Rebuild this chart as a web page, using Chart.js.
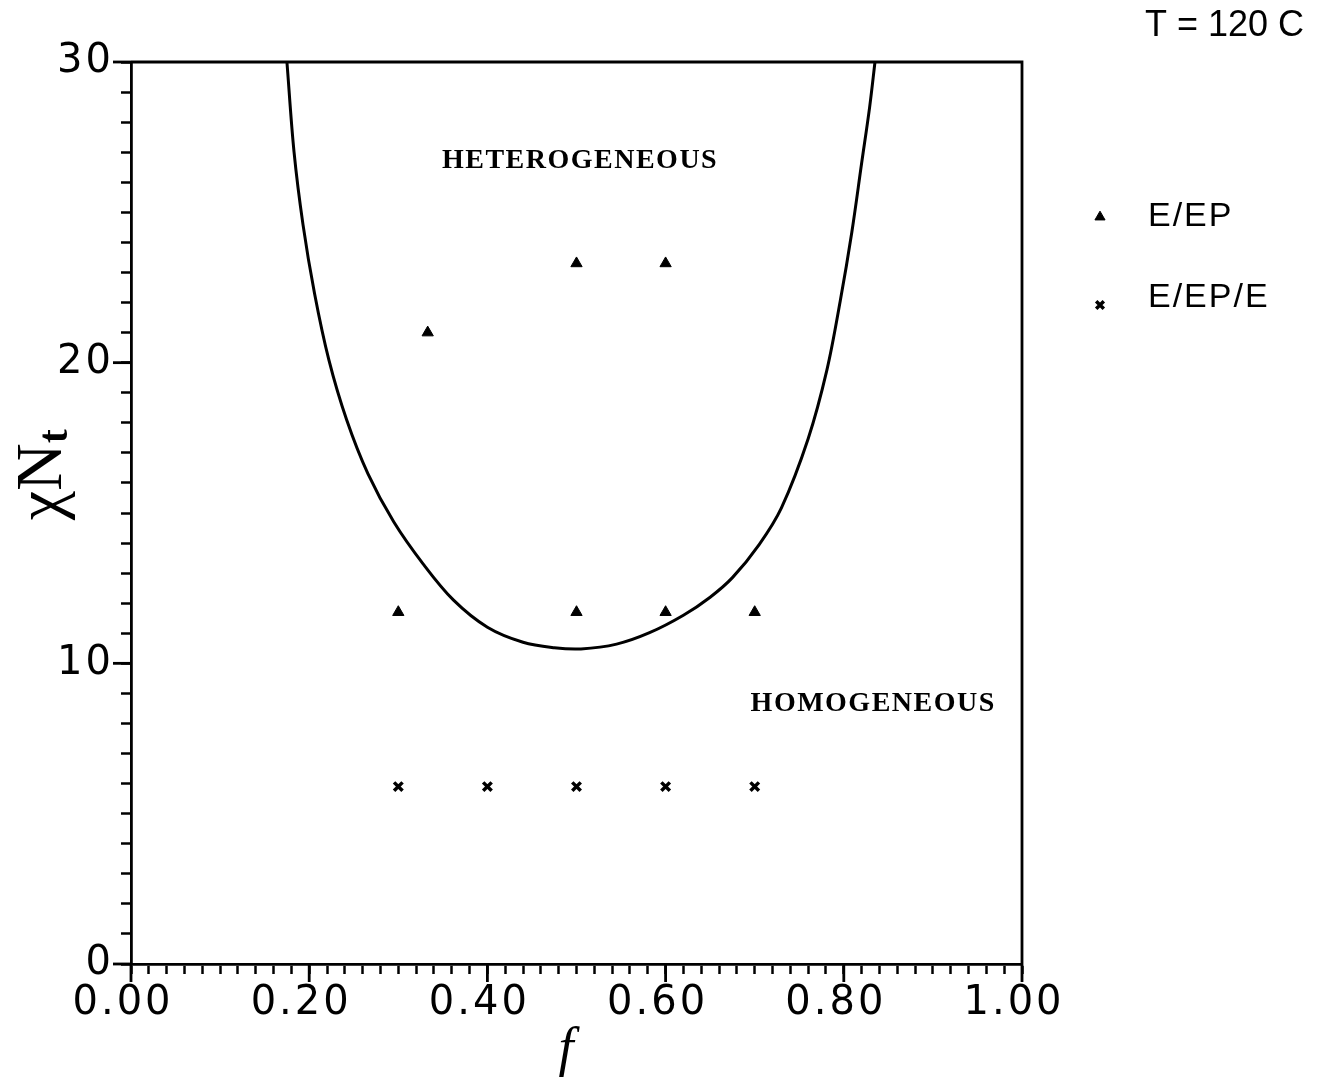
<!DOCTYPE html>
<html>
<head>
<meta charset="utf-8">
<script src="https://cdn.jsdelivr.net/npm/chart.js@4"></script>
<style>
  html, body { margin: 0; padding: 0; background: #fff; }
  #wrap { width: 1321px; height: 1080px; }
</style>
</head>
<body>
<div id="wrap"><canvas id="chartFase"></canvas></div>
<script>
// boundary curve (f, chi*Nt)
var curveF   = [0.175, 0.183, 0.193, 0.206, 0.222, 0.242, 0.266, 0.295, 0.328, 0.362, 0.400, 0.440, 0.475, 0.505, 0.545, 0.582, 0.620, 0.650, 0.675, 0.705, 0.730, 0.760, 0.781, 0.796, 0.809, 0.820, 0.829, 0.835];
var curveChi = [30.0, 27.0, 24.6, 22.3, 20.1, 18.1, 16.3, 14.7, 13.3, 12.1, 11.2, 10.7, 10.52, 10.48, 10.64, 11.02, 11.6, 12.2, 12.85, 13.95, 15.17, 17.47, 19.75, 22.05, 24.34, 26.63, 28.5, 30.0];

// E/EP diblock samples
var diblocoF   = [0.333, 0.50, 0.60, 0.30, 0.50, 0.60, 0.70];
var diblocoChi = [21.0, 23.3, 23.3, 11.7, 11.7, 11.7, 11.7];

// E/EP/E triblock samples
var tribloF   = [0.30, 0.40, 0.50, 0.60, 0.70];
var tribloChi = [5.9, 5.9, 5.9, 5.9, 5.9];

var yLabels = [0, 10, 20, 30];
var xLabels = [0, 0.2, 0.4, 0.6, 0.8, 1.0];

function pares(xs, ys) {
    return xs.map(function (v, i) { return { x: v, y: ys[i] }; });
}

function linha(ctx, x1, y1, x2, y2) {
    ctx.beginPath();
    ctx.moveTo(x1, y1);
    ctx.lineTo(x2, y2);
    ctx.stroke();
}

// wider spacing for the axis numbers
var espacamento = {
    id: "espacamento",
    beforeDraw: function (chart) { chart.ctx.letterSpacing = "3px"; },
    afterDatasetsDraw: function (chart) { chart.ctx.letterSpacing = "0px"; }
};

// frame, long ticks, region names, axis titles and the legend
var extras = {
    id: "extras",
    afterDraw: function (chart) {
        const ctx = chart.ctx;
        const a = chart.chartArea;
        const sx = chart.scales.x;
        const sy = chart.scales.y;

        ctx.save();
        ctx.letterSpacing = "0px";
        ctx.strokeStyle = "#000";
        ctx.fillStyle = "#000";
        ctx.lineWidth = 2.8;

        ctx.beginPath();
        ctx.moveTo(a.left, a.top);
        ctx.lineTo(a.right, a.top);
        ctx.lineTo(a.right, a.bottom);
        ctx.stroke();

        yLabels.forEach(function (v) {
            const py = sy.getPixelForValue(v);
            linha(ctx, a.left - 18, py, a.left, py);
        });
        xLabels.forEach(function (v) {
            const px = sx.getPixelForValue(v);
            linha(ctx, px, a.bottom, px, a.bottom + 18);
        });

        // region names
        ctx.font = "bold 28px 'Liberation Serif'";
        ctx.letterSpacing = "1.5px";
        ctx.textAlign = "center";
        ctx.textBaseline = "middle";
        ctx.fillText("HETEROGENEOUS", sx.getPixelForValue(0.504), sy.getPixelForValue(26.7));
        ctx.fillText("HOMOGENEOUS", sx.getPixelForValue(0.833), sy.getPixelForValue(8.65));
        ctx.letterSpacing = "0px";

        // x title
        ctx.font = "italic 54px 'Liberation Serif'";
        ctx.fillText("f", 566, 1051);

        // y title, rotated, with subscript t
        ctx.save();
        ctx.translate(44, 476);
        ctx.rotate(-Math.PI / 2);
        ctx.textAlign = "left";
        ctx.font = "66px 'Liberation Serif'";
        const w = ctx.measureText("\u03C7N").width;
        ctx.font = "42px 'Liberation Serif'";
        const wt = ctx.measureText("t").width;
        const x0 = -(w + wt) / 2;
        ctx.font = "66px 'Liberation Serif'";
        ctx.fillText("\u03C7N", x0, 0);
        ctx.font = "bold 42px 'Liberation Serif'";
        ctx.fillText("t", x0 + w, 12);
        ctx.restore();

        // temperature note
        ctx.font = "36px 'Liberation Sans'";
        ctx.textAlign = "left";
        ctx.fillText("T = 120 C", 1145, 26);

        // legend
        ctx.font = "34px 'Liberation Sans'";
        ctx.letterSpacing = "2px";
        const ds = chart.data.datasets;
        const itens = [
            { d: ds[1], y: 217 },
            { d: ds[2], y: 298 }
        ];
        itens.forEach(function (it) {
            ctx.lineWidth = it.d.borderWidth;
            Chart.helpers.drawPoint(ctx, {
                pointStyle: it.d.pointStyle,
                radius: it.d.pointRadius * 0.9,
                rotation: 0,
                borderWidth: it.d.borderWidth
            }, 1100, it.y + (it.d.pointStyle === "crossRot" ? 7 : 0));
            ctx.fillText(it.d.label, 1148, it.y);
        });
        ctx.restore();
    }
};

new Chart(document.getElementById("chartFase"), {
    type: "scatter",
    data: {
        datasets: [
            {
                label: "boundary",
                data: pares(curveF, curveChi),
                showLine: true,
                borderColor: "#000",
                borderWidth: 3,
                pointRadius: 0,
                tension: 0.35,
                fill: false
            },
            {
                label: "E/EP",
                data: pares(diblocoF, diblocoChi),
                pointStyle: "triangle",
                pointRadius: 6.5,
                borderWidth: 1,
                backgroundColor: "#000",
                borderColor: "#000"
            },
            {
                label: "E/EP/E",
                data: pares(tribloF, tribloChi),
                pointStyle: "crossRot",
                pointRadius: 6,
                borderWidth: 3.5,
                backgroundColor: "#000",
                borderColor: "#000"
            }
        ]
    },
    options: {
        responsive: true,
        maintainAspectRatio: false,
        animation: false,
        layout: { padding: { top: 62, right: 299, left: 0, bottom: 0 } },
        plugins: {
            legend: { display: false },
            tooltip: { enabled: false }
        },
        scales: {
            x: {
                type: "linear",
                min: 0,
                max: 1,
                afterFit: function (s) { s.height = 116; },
                border: { color: "#000", width: 2.8 },
                grid: { drawOnChartArea: false, tickLength: 10, tickColor: "#000", tickWidth: 2.5 },
                ticks: {
                    stepSize: 0.02,
                    autoSkip: false,
                    maxRotation: 0,
                    labelOffset: -8,
                    color: "#000",
                    padding: 6,
                    font: { family: "DejaVu Sans", size: 40 },
                    callback: function (v, i) { return i % 10 === 0 ? v.toFixed(2) : ""; }
                }
            },
            y: {
                type: "linear",
                min: 0,
                max: 30,
                afterFit: function (s) { s.width = 131; },
                border: { color: "#000", width: 2.8 },
                grid: { drawOnChartArea: false, tickLength: 10, tickColor: "#000", tickWidth: 2.5 },
                ticks: {
                    stepSize: 1,
                    autoSkip: false,
                    color: "#000",
                    padding: 7,
                    font: { family: "DejaVu Sans", size: 40 },
                    callback: function (v) { return v % 10 === 0 ? v : ""; }
                }
            }
        }
    },
    plugins: [espacamento, extras]
});
</script>
</body>
</html>
